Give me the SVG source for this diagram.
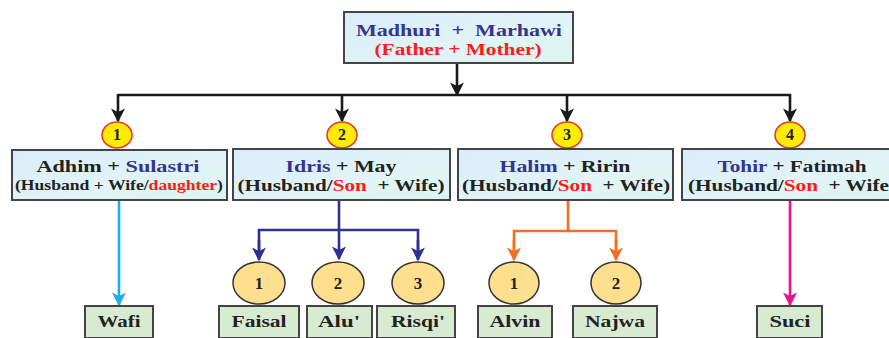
<svg xmlns="http://www.w3.org/2000/svg" width="889" height="338" viewBox="0 0 889 338" font-family="Liberation Serif, DejaVu Serif, serif">
  <defs>
    <linearGradient id="boxFill" x1="0" y1="0" x2="1" y2="1">
      <stop offset="0" stop-color="#d9ecfb"/>
      <stop offset="0.6" stop-color="#e2f4f6"/>
      <stop offset="1" stop-color="#dcf5ee"/>
    </linearGradient>
    <marker id="ahBlack" viewBox="0 0 10 10" refX="9" refY="5" markerWidth="14" markerHeight="14" markerUnits="userSpaceOnUse" orient="auto"><path d="M0,0 L10,5 L0,10 L2.5,5 Z" fill="#1a1a1a"/></marker>
    <marker id="ahNavy" viewBox="0 0 10 10" refX="9" refY="5" markerWidth="14" markerHeight="14" markerUnits="userSpaceOnUse" orient="auto"><path d="M0,0 L10,5 L0,10 L2.5,5 Z" fill="#2e3192"/></marker>
    <marker id="ahOrange" viewBox="0 0 10 10" refX="9" refY="5" markerWidth="14" markerHeight="14" markerUnits="userSpaceOnUse" orient="auto"><path d="M0,0 L10,5 L0,10 L2.5,5 Z" fill="#f37021"/></marker>
    <marker id="ahCyan" viewBox="0 0 10 10" refX="9" refY="5" markerWidth="14" markerHeight="14" markerUnits="userSpaceOnUse" orient="auto"><path d="M0,0 L10,5 L0,10 L2.5,5 Z" fill="#1cb0e8"/></marker>
    <marker id="ahPink" viewBox="0 0 10 10" refX="9" refY="5" markerWidth="14" markerHeight="14" markerUnits="userSpaceOnUse" orient="auto"><path d="M0,0 L10,5 L0,10 L2.5,5 Z" fill="#ec118f"/></marker>
  </defs>
  <style>
    text { font-family: "Liberation Serif", "DejaVu Serif", serif; font-weight: bold; text-anchor: middle; fill: #222; }
    .blue { fill: #34358c; }
    .red { fill: #ff1a1a; }
    .couple { fill: url(#boxFill); stroke: #444; stroke-width: 2; }
    .child { fill: #d9ead3; stroke: #444; stroke-width: 2; }
    .badge { fill: #ffec00; stroke: #e8392c; stroke-width: 1.6; }
    .order { fill: #fddf8e; stroke: #333; stroke-width: 1.5; }
    .top { font-size: 17px; }
    .l1 { font-size: 17px; }
    .l2 { font-size: 17px; }
    .num { font-size: 16px; }
    .name { font-size: 17px; }
    line, polyline { fill: none; stroke-width: 2.6; }
  </style>
  <rect width="889" height="338" fill="#ffffff"/>

  <g id="connectors">
    <line x1="457" y1="63" x2="457" y2="95" stroke="#1a1a1a" marker-end="url(#ahBlack)"/>
    <line x1="118" y1="95" x2="791" y2="95" stroke="#1a1a1a"/>
    <line x1="118" y1="94" x2="118" y2="121" stroke="#1a1a1a" marker-end="url(#ahBlack)"/>
    <line x1="342" y1="95" x2="342" y2="121" stroke="#1a1a1a" marker-end="url(#ahBlack)"/>
    <line x1="567" y1="95" x2="567" y2="121" stroke="#1a1a1a" marker-end="url(#ahBlack)"/>
    <line x1="790" y1="94" x2="790" y2="121" stroke="#1a1a1a" marker-end="url(#ahBlack)"/>
    <line x1="119" y1="201" x2="119" y2="305" stroke="#1cb0e8" marker-end="url(#ahCyan)"/>
    <line x1="339" y1="201" x2="339" y2="259" stroke="#2e3192" marker-end="url(#ahNavy)"/>
    <polyline points="259,250 259,230 418,230 418,250" stroke="#2e3192"/>
    <line x1="259" y1="240" x2="259" y2="260" stroke="#2e3192" marker-end="url(#ahNavy)"/>
    <line x1="418" y1="240" x2="418" y2="260" stroke="#2e3192" marker-end="url(#ahNavy)"/>
    <polyline points="514,250 514,231 616,231 616,250" stroke="#f37021"/>
    <line x1="568" y1="201" x2="568" y2="231" stroke="#f37021"/>
    <line x1="514" y1="240" x2="514" y2="260" stroke="#f37021" marker-end="url(#ahOrange)"/>
    <line x1="616" y1="240" x2="616" y2="260" stroke="#f37021" marker-end="url(#ahOrange)"/>
    <line x1="790" y1="201" x2="790" y2="305" stroke="#ec118f" marker-end="url(#ahPink)"/>
  </g>

  <g id="parents">
    <rect class="couple" x="344" y="12" width="229" height="51"/>
    <text x="459" y="36" class="top blue" xml:space="preserve" textLength="206" lengthAdjust="spacingAndGlyphs">Madhuri  +  Marhawi</text>
    <text x="458" y="55" class="top red" textLength="167" lengthAdjust="spacingAndGlyphs">(Father + Mother)</text>
  </g>

  <g id="family1">
    <ellipse class="badge" cx="117" cy="135" rx="15" ry="13"/>
    <text x="117" y="140" class="num">1</text>
    <rect class="couple" x="12" y="150" width="215" height="50"/>
    <text x="118" y="172" class="l1" textLength="163" lengthAdjust="spacingAndGlyphs">Adhim + <tspan class="blue">Sulastri</tspan></text>
    <text x="119" y="190" style="font-size:14.5px" textLength="208" lengthAdjust="spacingAndGlyphs">(Husband + Wife/<tspan class="red">daughter</tspan>)</text>
  </g>

  <g id="family2">
    <ellipse class="badge" cx="342" cy="135" rx="15" ry="13"/>
    <text x="342" y="140" class="num">2</text>
    <rect class="couple" x="233" y="149" width="217" height="51"/>
    <text x="341" y="172" class="l1" textLength="111" lengthAdjust="spacingAndGlyphs"><tspan class="blue">Idris</tspan> + May</text>
    <text x="341" y="191" class="l2" xml:space="preserve" textLength="207" lengthAdjust="spacingAndGlyphs">(Husband/<tspan class="red">Son</tspan>  + Wife)</text>
  </g>

  <g id="family3">
    <ellipse class="badge" cx="567" cy="135" rx="15" ry="13"/>
    <text x="567" y="140" class="num">3</text>
    <rect class="couple" x="458" y="149" width="215" height="51"/>
    <text x="565" y="172" class="l1" textLength="131" lengthAdjust="spacingAndGlyphs"><tspan class="blue">Halim</tspan> + Ririn</text>
    <text x="566" y="191" class="l2" xml:space="preserve" textLength="208" lengthAdjust="spacingAndGlyphs">(Husband/<tspan class="red">Son</tspan>  + Wife)</text>
  </g>

  <g id="family4">
    <ellipse class="badge" cx="790" cy="135" rx="15" ry="13"/>
    <text x="790" y="140" class="num">4</text>
    <rect class="couple" x="682" y="149" width="220" height="51"/>
    <text x="792" y="172" class="l1" textLength="149" lengthAdjust="spacingAndGlyphs"><tspan class="blue">Tohir</tspan> + Fatimah</text>
    <text x="688" y="191" class="l2" style="text-anchor:start" xml:space="preserve" textLength="208" lengthAdjust="spacingAndGlyphs">(Husband/<tspan class="red">Son</tspan>  + Wife)</text>
  </g>

  <g id="wafi">
    <rect class="child" x="85" y="306" width="68" height="32"/>
    <text x="119" y="327" class="name" textLength="43" lengthAdjust="spacingAndGlyphs">Wafi</text>
  </g>

  <g id="faisal">
    <ellipse class="order" cx="259" cy="283" rx="26" ry="21"/>
    <text x="259" y="289" class="name">1</text>
    <rect class="child" x="219" y="306" width="80" height="32"/>
    <text x="259" y="327" class="name" textLength="55" lengthAdjust="spacingAndGlyphs">Faisal</text>
  </g>

  <g id="alu">
    <ellipse class="order" cx="338" cy="283" rx="26" ry="21"/>
    <text x="338" y="289" class="name">2</text>
    <rect class="child" x="307" y="306" width="65" height="32"/>
    <text x="339" y="327" class="name" textLength="42" lengthAdjust="spacingAndGlyphs">Alu'</text>
  </g>

  <g id="risqi">
    <ellipse class="order" cx="418" cy="283" rx="26" ry="21"/>
    <text x="418" y="289" class="name">3</text>
    <rect class="child" x="377" y="306" width="78" height="32"/>
    <text x="418" y="327" class="name" textLength="54" lengthAdjust="spacingAndGlyphs">Risqi'</text>
  </g>

  <g id="alvin">
    <ellipse class="order" cx="514" cy="283" rx="25" ry="21"/>
    <text x="514" y="289" class="name">1</text>
    <rect class="child" x="478" y="306" width="74" height="32"/>
    <text x="515" y="327" class="name" textLength="51" lengthAdjust="spacingAndGlyphs">Alvin</text>
  </g>

  <g id="najwa">
    <ellipse class="order" cx="616" cy="283" rx="25" ry="21"/>
    <text x="616" y="289" class="name">2</text>
    <rect class="child" x="573" y="306" width="84" height="32"/>
    <text x="615" y="327" class="name" textLength="60" lengthAdjust="spacingAndGlyphs">Najwa</text>
  </g>

  <g id="suci">
    <rect class="child" x="757" y="306" width="65" height="32"/>
    <text x="790" y="327" class="name" textLength="41" lengthAdjust="spacingAndGlyphs">Suci</text>
  </g>
</svg>
